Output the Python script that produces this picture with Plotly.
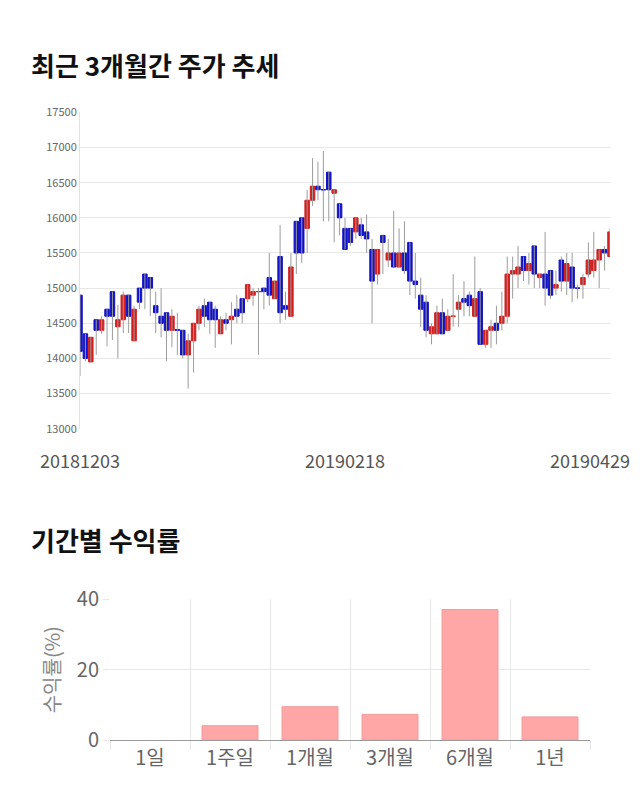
import pandas as pd
import plotly.graph_objects as go

# ---------------- data ----------------
holidays = ["2018-12-25", "2018-12-31", "2019-01-01", "2019-02-04",
            "2019-02-05", "2019-02-06", "2019-03-01"]
dates = [d.strftime("%Y%m%d") for d in pd.bdate_range("2018-12-03", "2019-04-29")
         if d.strftime("%Y-%m-%d") not in holidays]

open_ = [14900, 14350, 13950, 14550, 14400, 14700, 14950, 14450, 14550, 14900,
         14250, 15000, 15200, 15150, 14750, 14600, 14650, 14400, 14410, 14400,
         14050, 14250, 14500, 14750, 14800, 14700, 14350, 14550, 14550, 14700,
         14850, 14850, 14900, 14950, 15000, 15150, 14850, 15450, 14750, 14600,
         15950, 16000, 15850, 16250, 16450, 16400, 16650, 16350, 16200, 15850,
         15850, 15800, 15900, 15800, 15550, 15200, 15750, 15400, 15500, 15300,
         15500, 15650, 15100, 14900, 14800, 14350, 14350, 14650, 14400, 14600,
         14700, 14850, 14900, 14600, 14950, 14200, 14400, 14500, 14500, 14600,
         15200, 15200, 15450, 15250, 15600, 15150, 15200, 15250, 15000, 15400,
         15100, 15300, 15000, 15050, 15200, 15250, 15400, 15550, 15450]
high = [14900, 14350, 14300, 14550, 14600, 14700, 14950, 14760, 14950, 14900,
        14750, 15000, 15200, 15150, 14950, 15000, 14650, 14700, 14650, 14400,
        14350, 14500, 14750, 14850, 14800, 14750, 14600, 14650, 14800, 14900,
        14850, 15050, 15000, 15000, 15000, 15500, 15100, 15900, 14950, 15500,
        15950, 16000, 16400, 16850, 16800, 16950, 16650, 16400, 16200, 16000,
        15850, 16000, 16000, 16050, 15700, 15550, 15750, 15700, 16100, 15850,
        15950, 15650, 15500, 15150, 14900, 14500, 14750, 14850, 14700, 15200,
        14900, 15100, 14950, 15450, 15000, 14400, 14550, 14750, 14950, 15450,
        15450, 15600, 15450, 15500, 15600, 15200, 15800, 15250, 15250, 15450,
        15500, 15500, 15050, 15200, 15650, 15800, 15550, 15600, 15850]
low = [13750, 13960, 13950, 14050, 14350, 14170, 14260, 14000, 14360, 14360,
       14250, 14700, 14700, 14600, 14360, 14300, 13960, 14160, 14050, 14000,
       13570, 13800, 14400, 14450, 14350, 14150, 14350, 14400, 14200, 14500,
       14500, 14800, 14750, 14050, 14700, 14750, 14850, 14500, 14550, 14600,
       15200, 15360, 15500, 16170, 16250, 15950, 15950, 15650, 15750, 15550,
       15600, 15700, 15700, 15500, 14500, 15050, 15200, 15300, 15300, 15300,
       15200, 14900, 14850, 14450, 14300, 14200, 14350, 14350, 14400, 14450,
       14450, 14600, 14600, 14600, 14200, 14150, 14150, 14200, 14400, 14500,
       14850, 15000, 15100, 15050, 15000, 15000, 14750, 14850, 14900, 14950,
       14900, 14800, 14850, 14850, 15150, 15150, 15000, 15250, 15450]
close = [14100, 14000, 14300, 14400, 14550, 14600, 14600, 14550, 14900, 14600,
         14700, 14800, 15000, 15000, 14650, 14500, 14400, 14600, 14400, 14050,
         14250, 14500, 14700, 14600, 14550, 14550, 14550, 14500, 14600, 14600,
         14650, 15050, 14950, 14950, 14950, 14900, 15100, 14650, 14700, 15300,
         15500, 15500, 16250, 16450, 16400, 16400, 16400, 16400, 16000, 15550,
         15650, 16000, 15750, 15700, 15100, 15550, 15650, 15500, 15300, 15500,
         15250, 15100, 15050, 14700, 14400, 14450, 14650, 14350, 14600, 14600,
         14800, 14800, 14750, 14850, 14200, 14400, 14450, 14400, 14600, 15200,
         15250, 15300, 15250, 15350, 15200, 15200, 15000, 14900, 15050, 15100,
         15350, 15000, 15000, 15150, 15400, 15400, 15550, 15500, 15800]

tick_labels = ["20181203", "20190218", "20190429"]

periods = ["1일", "1주일", "1개월", "3개월", "6개월", "1년"]
returns = [0, 4.1, 9.5, 7.3, 37.1, 6.6]

# ---------------- styles ----------------
W, H = 640, 810
FONT = "Noto Sans CJK KR"
RED = "#d41f1f"
BLUE = "#1212c6"
GRID = "#e7e7e7"

def px_x(p):
    return p / W

def px_y(p):
    return 1 - p / H

fig = go.Figure()

# wicks (gray)
wx, wy = [], []
for d, h, l in zip(dates, high, low):
    wx += [d, d, None]
    wy += [l, h, None]
fig.add_trace(go.Scatter(x=wx, y=wy, mode="lines", line=dict(color="#9c9c9c", width=1),
                         hoverinfo="skip", showlegend=False, xaxis="x", yaxis="y"))

# bodies
body_hi = [max(o, c) for o, c in zip(open_, close)]
body_lo = [min(o, c) for o, c in zip(open_, close)]
fig.add_trace(go.Candlestick(
    x=dates, open=open_, high=body_hi, low=body_lo, close=close,
    increasing=dict(line=dict(color=RED, width=1), fillcolor=RED),
    decreasing=dict(line=dict(color=BLUE, width=1), fillcolor=BLUE),
    whiskerwidth=0, showlegend=False, xaxis="x", yaxis="y"))

# returns bars
fig.add_trace(go.Bar(
    x=periods, y=returns, width=0.7,
    marker=dict(color="#ffa7a7",
                line=dict(color="#f39c9c", width=[0 if v == 0 else 1 for v in returns])),
    showlegend=False, xaxis="x2", yaxis="y2"))

annotations = [
    dict(text="최근 3개월간 주가 추세", x=px_x(29), y=px_y(50), xref="paper", yref="paper",
         xanchor="left", yanchor="middle", showarrow=False,
         font=dict(family=FONT, size=26, color="#111", weight=700)),
    dict(text="기간별 수익률", x=px_x(29), y=px_y(543), xref="paper", yref="paper",
         xanchor="left", yanchor="middle", showarrow=False,
         font=dict(family=FONT, size=26, color="#111", weight=700)),
]
for i, t in enumerate(tick_labels):
    last = i == len(tick_labels) - 1
    annotations.append(dict(
        text=t, x=dates.index(t), y=px_y(461), xref="x", yref="paper",
        xanchor="right" if last else "center", xshift=22 if last else 0,
        yanchor="middle", showarrow=False,
        font=dict(family=FONT, size=18, color="#555")))

fig.update_layout(
    width=W, height=H,
    margin=dict(l=0, r=0, t=0, b=0),
    paper_bgcolor="white", plot_bgcolor="white",
    font=dict(family=FONT, color="#666"),
    boxgap=0.17, boxgroupgap=0,
    xaxis=dict(domain=[px_x(80), px_x(610)], type="category", range=[0, len(dates) - 1],
               showticklabels=False, showgrid=False, zeroline=False, showline=False,
               ticks="", rangeslider=dict(visible=False), anchor="y", fixedrange=True),
    yaxis=dict(domain=[px_y(428), px_y(100)], range=[13000, 17500], tick0=13000, dtick=500,
               tickformat="d",
               gridcolor=GRID, gridwidth=1, zeroline=False, showline=True,
               linecolor="#e2e2e2", linewidth=1, ticks="",
               tickfont=dict(family=FONT, size=11, color="#666"), anchor="x"),
    xaxis2=dict(domain=[px_x(110), px_x(590)], type="category", tickson="boundaries",
                showgrid=True, gridcolor=GRID, ticks="outside", ticklen=9, tickcolor=GRID,
                showline=True, linecolor="#9a9a9a", linewidth=1, zeroline=False,
                tickfont=dict(family=FONT, size=20, color="#666"), anchor="y2"),
    yaxis2=dict(domain=[px_y(751), px_y(605)], range=[0, 40], dtick=20,
                gridcolor=GRID, ticks="outside", ticklen=6, tickcolor=GRID,
                zeroline=False, showline=False,
                tickfont=dict(family=FONT, size=20, color="#666"),
                title=dict(text="수익률(%)", font=dict(family=FONT, size=20, color="#888"),
                           standoff=10),
                anchor="x2"),
    annotations=annotations,
)

fig.write_html("out.html")
